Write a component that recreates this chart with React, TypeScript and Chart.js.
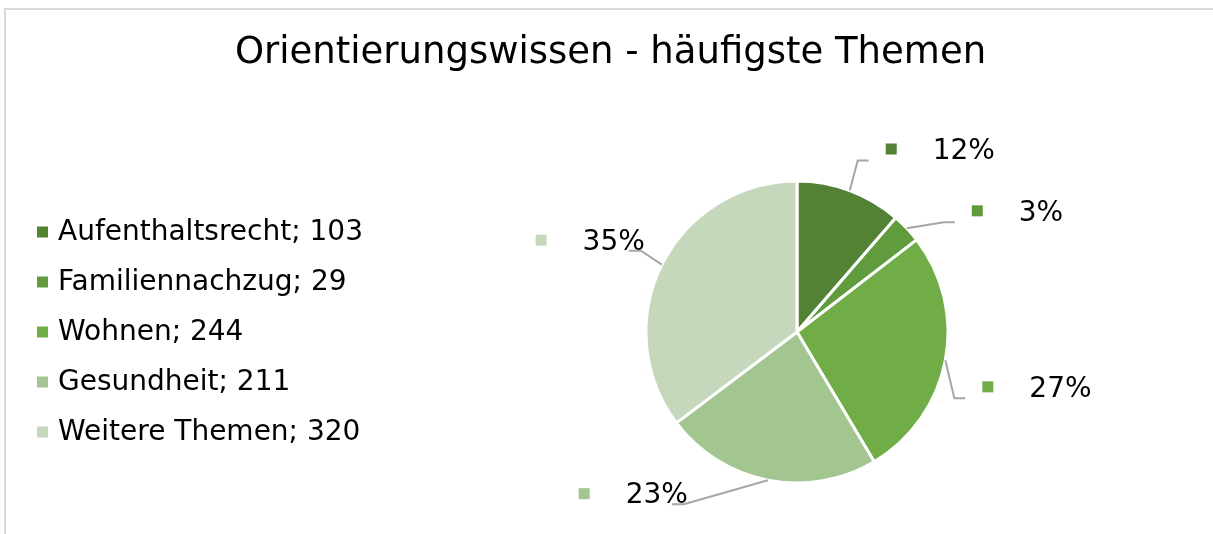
import React, { useEffect, useRef } from "react";
import { Chart, registerables } from "chart.js";

Chart.register(...registerables);

const TITLE = "Orientierungswissen - häufigste Themen";
const categories = ["Aufenthaltsrecht", "Familiennachzug", "Wohnen", "Gesundheit", "Weitere Themen"];
const counts = [103, 29, 244, 211, 320];
const percentLabels = ["12%", "3%", "27%", "23%", "35%"];

const sliceColors = ["#548235", "#609C3D", "#70AD47", "#A3C590", "#C5D8BC"];
// label box offsets (px) relative to each slice's outer mid point
const labelOffsets: [number, number][] = [
  [36, -41],
  [65, -17],
  [37, 27],
  [-80, 14],
  [-17, -24],
];

const FONT = "'DejaVu Sans', Verdana, sans-serif";

const overlayPlugin = {
  id: "overlay",
  afterDraw(chart: any) {
    const ctx = chart.ctx as CanvasRenderingContext2D;
    const area = chart.chartArea;
    const cy = (area.top + area.bottom) / 2;
    ctx.save();

    // title
    ctx.fillStyle = "#000000";
    ctx.font = `37px ${FONT}`;
    ctx.textAlign = "center";
    ctx.textBaseline = "middle";
    ctx.fillText(TITLE, chart.width / 2 + 4, 53);

    // legend
    ctx.font = `28px ${FONT}`;
    ctx.textAlign = "left";
    const n = categories.length;
    categories.forEach((c, i) => {
      const y = cy + (i - (n - 1) / 2) * 50;
      ctx.fillStyle = sliceColors[i];
      ctx.fillRect(37, y - 5.5, 11, 11);
      ctx.fillStyle = "#000000";
      ctx.fillText(`${c}; ${counts[i]}`, 58, y + 1);
    });

    // data labels with leader lines
    const meta = chart.getDatasetMeta(0);
    meta.data.forEach((arc: any, i: number) => {
      const p = arc.getProps(["x", "y", "startAngle", "endAngle", "outerRadius"], true);
      const mid = (p.startAngle + p.endAngle) / 2;
      const px = p.x + Math.cos(mid) * p.outerRadius;
      const py = p.y + Math.sin(mid) * p.outerRadius;
      const [dx, dy] = labelOffsets[i];
      const ly = py + dy;
      const txt = percentLabels[i];
      ctx.font = `28px ${FONT}`;
      const tw = ctx.measureText(txt).width;
      let markerLeft: number, textLeft: number, endX: number, elbowX: number, endY: number;
      if (Math.cos(mid) >= 0) {
        markerLeft = px + dx;
        textLeft = markerLeft + 47;
        endX = markerLeft - 17;
        elbowX = endX - 11;
        endY = ly + 11;
      } else {
        const textRight = px + dx;
        textLeft = textRight - tw;
        markerLeft = textLeft - 47;
        endX = textRight - 16;
        elbowX = endX + 12;
        endY = ly + 10;
      }
      ctx.strokeStyle = "#A6A6A6";
      ctx.lineWidth = 2;
      ctx.beginPath();
      ctx.moveTo(px, py);
      ctx.lineTo(elbowX, endY);
      ctx.lineTo(endX, endY);
      ctx.stroke();

      ctx.fillStyle = sliceColors[i];
      ctx.fillRect(markerLeft, ly - 6, 11, 11);
      ctx.fillStyle = "#000000";
      ctx.textAlign = "left";
      ctx.textBaseline = "middle";
      ctx.fillText(txt, textLeft, ly + 2);
    });
    ctx.restore();
  },
};

export default function App() {
  const ref = useRef<HTMLCanvasElement | null>(null);
  useEffect(() => {
    if (!ref.current) return;
    const chart = new Chart(ref.current, {
      type: "pie",
      data: {
        labels: categories,
        datasets: [
          {
            data: counts,
            backgroundColor: sliceColors,
            borderColor: "#FFFFFF",
            borderWidth: 3,
          },
        ],
      },
      options: {
        responsive: false,
        animation: false,
        radius: 151,
        layout: { padding: { left: 600, right: 219, top: 130, bottom: 0 } },
        plugins: {
          legend: { display: false },
          title: { display: false },
          tooltip: { enabled: false },
        },
      } as any,
      plugins: [overlayPlugin],
    });
    return () => chart.destroy();
  }, []);

  return (
    <div style={{ position: "fixed", left: 0, top: 0, width: 1213, height: 534, background: "#fff", overflow: "hidden" }}>
      <div
        style={{
          position: "absolute",
          left: 4,
          top: 8,
          width: 1230,
          height: 560,
          border: "2px solid #D9D9D9",
          boxSizing: "border-box",
        }}
      />
      <canvas ref={ref} width={1213} height={534} style={{ position: "absolute", left: 0, top: 0, width: 1213, height: 534 }} />
    </div>
  );
}
